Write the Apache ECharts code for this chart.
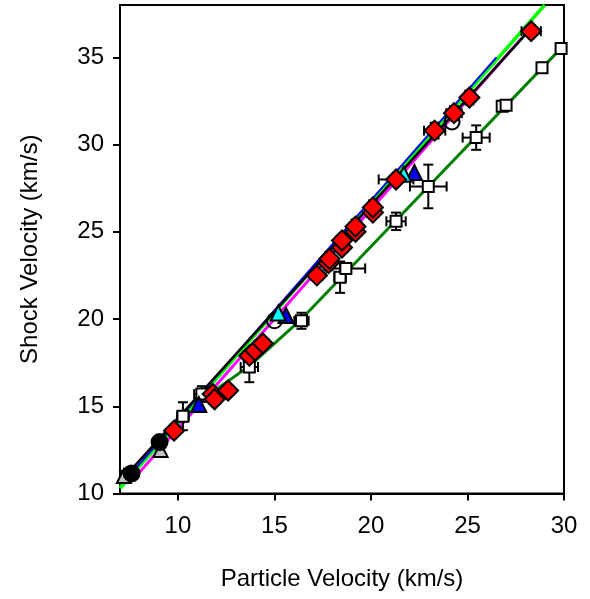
<!DOCTYPE html>
<html>
<head>
<meta charset="utf-8">
<script src="https://cdn.jsdelivr.net/npm/echarts@6/dist/echarts.min.js"></script>
<style>
html, body { margin: 0; padding: 0; background: #fff; }
#chart { width: 590px; height: 599px; }
</style>
</head>
<body>
<div id="chart"></div>
<script>
// red diamonds
const diamondX = [9.8, 11.8, 11.9, 12.6, 13.7, 14.0, 14.4, 17.2, 17.8, 17.85, 18.5, 18.5, 19.2, 19.2, 20.1, 20.1, 21.3, 23.3, 24.3, 25.1, 28.3]
const diamondY = [13.6, 15.7, 15.4, 15.9, 17.9, 18.2, 18.6, 22.5, 23.2, 23.45, 24.1, 24.5, 25.0, 25.3, 26.1, 26.4, 28.0, 30.8, 31.8, 32.7, 36.5]
const diamondXErr = [0.2, 0.3, 0.3, 0.3, 0.3, 0.3, 0.3, 0.3, 0.3, 0.3, 0.3, 0.3, 0.3, 0.3, 0.3, 0.3, 0.9, 0.55, 0.4, 0.3, 0.5]
const diamondYErr = [0.2, 0.3, 0.3, 0.3, 0.3, 0.3, 0.3, 0.3, 0.4, 0.4, 0.3, 0.3, 0.3, 0.4, 0.3, 0.4, 0.3, 0.45, 0.4, 0.4, 0.2]

// open squares (second branch)
const squareX = [10.26, 11.24, 13.7, 16.4, 18.4, 18.7, 21.3, 22.97, 25.45, 26.8, 27.0, 28.86, 29.85]
const squareY = [14.43, 15.7, 17.25, 19.9, 22.4, 22.9, 25.6, 27.6, 30.4, 32.2, 32.25, 34.4, 35.5]
const squareXErr = [0.3, 0.4, 0.45, 0.37, 0.3, 1.0, 0.5, 0.95, 0.7, 0, 0, 0, 0]
const squareYErr = [0.8, 0.45, 0.87, 0.46, 0.9, 0.3, 0.5, 1.25, 0.7, 0, 0, 0, 0]

// black dots, grey triangles, blue / cyan triangles, open circles
const dotX = [7.6, 9.05]
const dotY = [11.15, 12.95]
const greyX = [7.2, 9.1]
const greyY = [11.0, 12.5]
const greyYErr = [0.3, 0.35]
const blueX = [11.08, 15.6, 22.25]
const blueY = [15.1, 20.2, 28.4]
const cyanX = [15.2, 21.7]
const cyanY = [20.35, 28.3]
const ringX = [15.0, 24.2]
const ringY = [19.9, 31.3]

// fit lines
const limeX = [7.0, 29.0]
const limeY = [10.3, 38.0]
const blueLineX = [7.3, 26.5]
const blueLineY = [10.8, 35.0]
const magentaX = [8.0, 27.8]
const magentaY = [11.2, 36.1]
const blackX = [7.2, 28.0]
const blackY = [10.9, 36.3]
const darkGreenX = [7.0, 11.0, 13.7, 16.4, 20.3, 30.0]
const darkGreenY = [10.4, 15.2, 17.3, 20.0, 24.5, 35.7]

const xTicks = [10, 15, 20, 25, 30]
const yTicks = [10, 15, 20, 25, 30, 35]

const zip = (xs, ys) => xs.map((x, i) => [x, ys[i]])

function errorBars(xs, ys, xe, ye) {
  return {
    type: 'custom',
    z: 3,
    silent: true,
    data: xs.map((x, i) => [x, ys[i], xe[i], ye[i]]),
    encode: { x: 0, y: 1 },
    renderItem(params, api) {
      const x = api.value(0), y = api.value(1)
      const ex = api.value(2), ey = api.value(3)
      const c = api.coord([x, y])
      const cap = 5
      const children = []
      const st = { stroke: '#000', lineWidth: 2 }
      if (ex > 0) {
        const l = api.coord([x - ex, y]), r = api.coord([x + ex, y])
        children.push({ type: 'line', shape: { x1: l[0], y1: c[1], x2: r[0], y2: c[1] }, style: st })
        children.push({ type: 'line', shape: { x1: l[0], y1: c[1] - cap, x2: l[0], y2: c[1] + cap }, style: st })
        children.push({ type: 'line', shape: { x1: r[0], y1: c[1] - cap, x2: r[0], y2: c[1] + cap }, style: st })
      }
      if (ey > 0) {
        const t = api.coord([x, y + ey]), b = api.coord([x, y - ey])
        children.push({ type: 'line', shape: { x1: c[0], y1: t[1], x2: c[0], y2: b[1] }, style: st })
        children.push({ type: 'line', shape: { x1: c[0] - cap, y1: t[1], x2: c[0] + cap, y2: t[1] }, style: st })
        children.push({ type: 'line', shape: { x1: c[0] - cap, y1: b[1], x2: c[0] + cap, y2: b[1] }, style: st })
      }
      return { type: 'group', children }
    }
  }
}

function fitLine(xs, ys, color, width) {
  return {
    type: 'line',
    data: zip(xs, ys),
    showSymbol: false,
    silent: true,
    z: 2,
    lineStyle: { color, width }
  }
}

function markers(xs, ys, symbol, size, fill) {
  return {
    type: 'scatter',
    data: zip(xs, ys),
    symbol,
    symbolSize: size,
    z: 4,
    itemStyle: { color: fill, borderColor: '#000', borderWidth: 2, opacity: 1 }
  }
}

const font = { fontFamily: 'Liberation Sans', fontSize: 24, color: '#000' }

const chart = echarts.init(document.getElementById('chart'))
chart.setOption({
  animation: false,
  grid: { left: 120, right: 26, top: 5, bottom: 105.5, show: true, borderColor: '#000', borderWidth: 2 },
  xAxis: {
    type: 'value', min: 7, max: 30,
    name: 'Particle Velocity (km/s)', nameLocation: 'middle', nameGap: 74,
    nameTextStyle: font,
    axisLine: { lineStyle: { color: '#000', width: 2 } },
    axisTick: { customValues: xTicks, length: 7, lineStyle: { color: '#000', width: 2 } },
    axisLabel: Object.assign({ customValues: xTicks, margin: 21 }, font),
    splitLine: { show: false }
  },
  yAxis: {
    type: 'value', min: 10, max: 38,
    name: 'Shock Velocity (km/s)', nameLocation: 'middle', nameGap: 78,
    nameTextStyle: font,
    axisLine: { lineStyle: { color: '#000', width: 2 } },
    axisTick: { customValues: yTicks, length: 7, lineStyle: { color: '#000', width: 2 } },
    axisLabel: Object.assign({ customValues: yTicks, margin: 16 }, font),
    splitLine: { show: false }
  },
  series: [
    fitLine(darkGreenX, darkGreenY, '#008000', 3),
    fitLine(limeX, limeY, '#00ff00', 3.5),
    fitLine(blueLineX, blueLineY, '#0000ff', 2),
    fitLine(magentaX, magentaY, '#ff00ff', 3),
    fitLine(blackX, blackY, '#000000', 2.5),
    errorBars(squareX, squareY, squareXErr, squareYErr),
    errorBars(diamondX, diamondY, diamondXErr, diamondYErr),
    errorBars(greyX, greyY, [0, 0], greyYErr),
    markers(greyX, greyY, 'triangle', 14, '#c0c0c0'),
    markers(squareX, squareY, 'rect', 11, '#ffffff'),
    markers(ringX, ringY, 'circle', 15, 'rgba(0,0,0,0)'),
    markers(blueX, blueY, 'triangle', 15, '#0000ff'),
    markers(cyanX, cyanY, 'triangle', 15, '#00ffff'),
    markers(diamondX, diamondY, 'diamond', 20, '#ff0000'),
    markers(dotX, dotY, 'circle', 16, '#000000')
  ]
})
</script>
</body>
</html>
